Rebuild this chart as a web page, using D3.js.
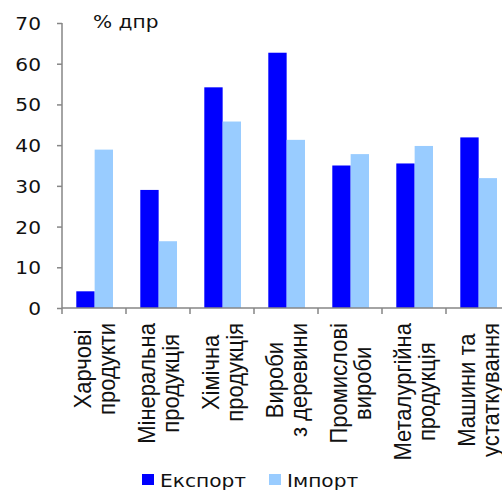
<!DOCTYPE html>
<html><head><meta charset="utf-8">
<script src="https://cdn.jsdelivr.net/npm/d3@7"></script>
<style>body{margin:0;background:#fff}svg{display:block}</style>
</head><body>
<svg id="c" width="502" height="490"></svg>
<script>
const categories = [
  ["Харчові","продукти"],
  ["Мінеральна","продукція"],
  ["Хімічна","продукція"],
  ["Вироби","з деревини"],
  ["Промислові","вироби"],
  ["Металургійна","продукція"],
  ["Машини та","устаткування"]
];
const seriesNames = ["Експорт","Імпорт"];
const exportValues = [4.1, 29.0, 54.2, 62.7, 35.0, 35.5, 41.9];
const importValues = [38.9, 16.4, 45.8, 41.3, 37.8, 39.8, 31.9];
const yTicks = [0,10,20,30,40,50,60,70];
const unitLabel = "% дпр";
const colors = ["#0000ff","#99ccff"];

const svg = d3.select("#c");
const keys = categories.map((c,i)=>"c"+i);
const x = d3.scaleBand().domain(keys).range([62,510]).paddingInner(0).paddingOuter(0);
const x1 = d3.scaleBand().domain(seriesNames).range([14.3, 51]).padding(0);
const y = d3.scaleLinear().domain([0,70]).range([308,23]);
const axisColor = "#868686";
const hfont = "DejaVu Sans, Verdana, sans-serif";

// bars
const data = keys.map((k,i)=>({k, vals:[exportValues[i], importValues[i]]}));
const g = svg.append("g");
data.forEach(d=>{
  d.vals.forEach((v,j)=>{
    g.append("rect")
      .attr("x", x(d.k)+x1(seriesNames[j]))
      .attr("y", y(v))
      .attr("width", x1.bandwidth())
      .attr("height", y(0)-y(v))
      .attr("fill", colors[j]);
  });
});

// y axis
const yAxis = svg.append("g").attr("transform","translate(62,0)")
  .call(d3.axisLeft(y).tickValues(yTicks).tickSize(5).tickPadding(0).tickFormat(d3.format("d")));
yAxis.select(".domain").attr("stroke",axisColor).attr("stroke-width",1.5).attr("d","M0,"+y(70)+"V"+y(0));
yAxis.selectAll(".tick line").attr("stroke",axisColor).attr("stroke-width",1.5);
yAxis.selectAll(".tick text").remove();
yAxis.selectAll(".tick").append("text")
  .attr("transform","translate(-21,6.5) scale(1.12,1)")
  .attr("text-anchor","end")
  .attr("fill","#111")
  .style("font-family",hfont).style("font-size","18px")
  .text(d=>d);

// x axis
svg.append("line").attr("x1",62).attr("x2",502).attr("y1",y(0)).attr("y2",y(0))
  .attr("stroke",axisColor).attr("stroke-width",1.5);
const bounds = keys.map(k=>x(k)).concat([x.range()[1]]);
svg.selectAll(".xt").data(bounds).enter().append("line")
  .attr("x1",d=>d).attr("x2",d=>d).attr("y1",y(0)).attr("y2",y(0)+6)
  .attr("stroke",axisColor).attr("stroke-width",1.5);

// category labels
keys.forEach((k,i)=>{
  const cx = x(k)+x.bandwidth()/2;
  const lines = categories[i];
  const grp = svg.append("g");
  const texts = lines.map((t,j)=>grp.append("text")
    .attr("text-anchor","middle")
    .attr("fill","#111")
    .style("font-family","Liberation Sans, Arial, sans-serif")
    .style("font-size","22px")
    .text(t));
  const maxLen = d3.max(texts, t=>t.node().getComputedTextLength());
  const cy = 323 + maxLen/2;
  texts.forEach((t,j)=>{
    const bx = cx - 3.5 + j*24;
    t.attr("transform",`translate(${bx},${cy}) scale(1.08,1) rotate(-90)`);
  });
});

// unit label
svg.append("text").attr("transform","translate(93,28) scale(1.12,1)")
  .attr("fill","#111").style("font-family",hfont).style("font-size","18px").text(unitLabel);

// legend
const legX = [142, 269];
seriesNames.forEach((s,i)=>{
  svg.append("rect").attr("x",legX[i]).attr("y",474).attr("width",12).attr("height",11).attr("fill",colors[i]);
  svg.append("text").attr("transform",`translate(${legX[i]+18},486.5) scale(1.12,1)`)
    .attr("fill","#111").style("font-family",hfont).style("font-size","18px").text(s);
});
</script>
</body></html>
